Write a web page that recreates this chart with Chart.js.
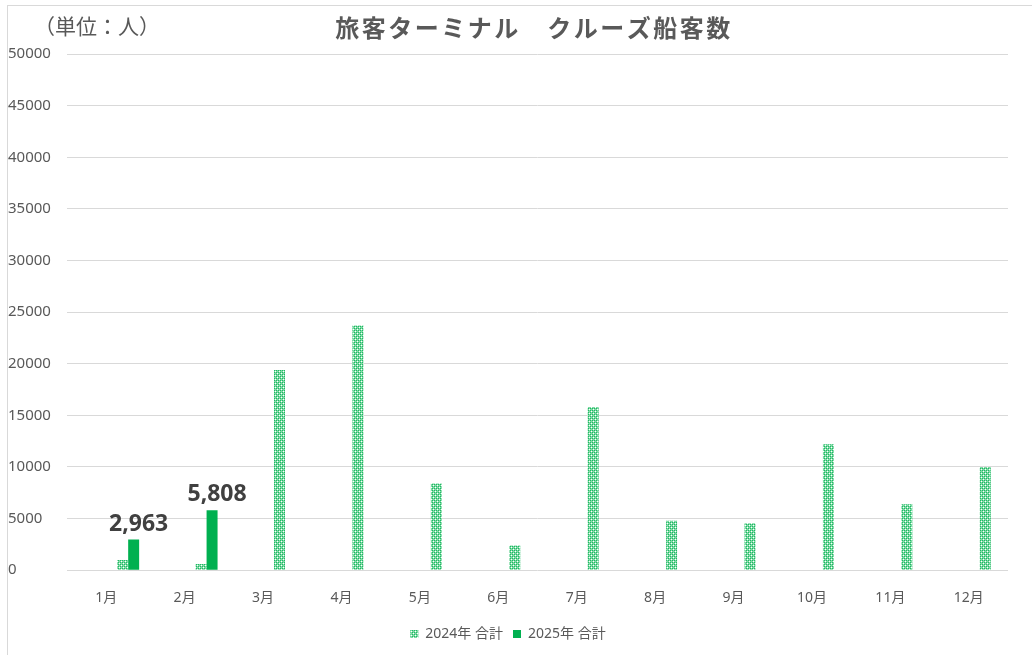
<!DOCTYPE html>
<html>
<head>
<meta charset="utf-8">
<script src="https://cdn.jsdelivr.net/npm/chart.js@4"></script>
<style>
  html, body { margin: 0; padding: 0; background: #fff; }
  #wrap { width: 1032px; height: 655px; position: relative; }
</style>
</head>
<body>
<div id="wrap"><canvas id="myChart" width="1032" height="655"></canvas></div>
<script>
var months = ['1月', '2月', '3月', '4月', '5月', '6月', '7月', '8月', '9月', '10月', '11月', '12月'];
var total2024 = [1000, 600, 19400, 23700, 8400, 2400, 15800, 4800, 4550, 12200, 6400, 10000];
var total2025 = [2963, 5808];
var yTicks = [0, 5000, 10000, 15000, 20000, 25000, 30000, 35000, 40000, 45000, 50000];

var FONT = '"Noto Sans", "Noto Sans CJK JP", sans-serif';
var GRAY = '#595959';

// dotted fill like the Excel pattern
function makePattern() {
    var c = document.createElement('canvas');
    c.width = 4; c.height = 4;
    var g = c.getContext('2d');
    g.fillStyle = '#7fdaa5';
    g.fillRect(0, 0, 4, 4);
    g.fillStyle = '#1db863';
    g.fillRect(0, 0, 1, 1); g.fillRect(2, 0, 1, 1); g.fillRect(0, 2, 1, 1); g.fillRect(2, 2, 1, 1);
    g.fillStyle = '#ffffff';
    g.fillRect(1, 1, 1, 1); g.fillRect(3, 3, 1, 1);
    return g.createPattern(c, 'repeat');
}

var ctx = document.getElementById('myChart').getContext('2d');
var dots = makePattern();

// empty series keep the grouped offset that the original has
var blank = { label: '', data: [], backgroundColor: 'rgba(0,0,0,0)' };

var labelPlugin = {
    id: 'extraText',
    afterDraw: function(chart) {
        var c = chart.ctx;
        c.save();
        // frame
        c.strokeStyle = '#d9d9d9';
        c.lineWidth = 1;
        c.strokeRect(7.5, 5.5, 1100, 700);
        c.fillStyle = GRAY;
        c.textBaseline = 'middle';
        c.textAlign = 'center';
        c.font = 'bold 24px ' + FONT;
        c.letterSpacing = '2.5px';
        c.fillText('旅客ターミナル　クルーズ船客数', 534, 30);
        c.letterSpacing = '0px';
        c.textAlign = 'left';
        c.font = '21px ' + FONT;
        c.fillText('（単位：人）', 34, 28);
        // data labels for 2025
        var meta = chart.getDatasetMeta(5);
        c.fillStyle = '#404040';
        c.textAlign = 'center';
        c.textBaseline = 'bottom';
        c.font = 'bold 23px ' + FONT;
        meta.data.forEach(function(bar, i) {
            var v = total2025[i];
            if (v == null) return;
            c.fillText(v.toLocaleString('en-US'), bar.x + 5, bar.y - 4);
        });
        c.restore();
    }
};

var myChart = new Chart(ctx, {
    type: 'bar',
    data: {
        labels: months,
        datasets: [
            Object.assign({}, blank),
            Object.assign({}, blank),
            Object.assign({}, blank),
            Object.assign({}, blank),
            {
                label: '2024年 合計',
                data: total2024,
                backgroundColor: dots
            },
            {
                label: '2025年 合計',
                data: total2025,
                backgroundColor: '#00b050'
            }
        ]
    },
    options: {
        responsive: false,
        animation: false,
        layout: { padding: { top: 54, left: 8, right: 24, bottom: 4 } },
        datasets: { bar: { categoryPercentage: 0.84, barPercentage: 1.0 } },
        plugins: {
            title: { display: false },
            tooltip: { enabled: false },
            legend: {
                position: 'bottom',
                labels: {
                    filter: function(item) { return item.text !== ''; },
                    boxWidth: 8,
                    boxHeight: 8,
                    color: GRAY,
                    font: { family: FONT, size: 14 },
                    padding: 10
                }
            }
        },
        scales: {
            x: {
                grid: { display: false },
                border: { display: false },
                ticks: { color: GRAY, font: { family: FONT, size: 14 }, padding: 11 }
            },
            y: {
                min: 0,
                max: 50000,
                afterBuildTicks: function(scale) {
                    scale.ticks = yTicks.map(function(v) { return { value: v }; });
                },
                afterFit: function(scale) { scale.width = 59; },
                grid: { color: '#d9d9d9', lineWidth: 1, drawTicks: false },
                border: { display: false },
                ticks: {
                    color: GRAY,
                    crossAlign: 'far',
                    padding: 8,
                    font: { family: FONT, size: 15 },
                    callback: function(v) { return String(v); }
                }
            }
        }
    },
    plugins: [labelPlugin]
});
</script>
</body>
</html>
